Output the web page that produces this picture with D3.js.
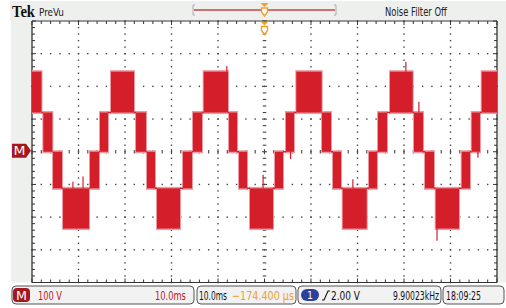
<!DOCTYPE html>
<html><head><meta charset="utf-8">
<script src="https://cdn.jsdelivr.net/npm/d3@7"></script>
<style>
html,body{margin:0;padding:0;background:#fff;}
svg{display:block;}
text{font-family:"DejaVu Sans Condensed","Roboto","Liberation Sans",sans-serif;}
</style></head>
<body>
<svg id="c" width="506" height="308"></svg>
<script>
// ---- data (time in ms, voltage in V) ----
const segStart = [0.0, 2.43, 4.52, 6.67, 12.47, 14.62, 16.99, 22.37, 24.73, 26.88, 32.47, 34.62,
  36.92, 42.37, 44.52, 46.88, 52.26, 54.62, 56.84, 62.37, 64.73, 66.82, 72.47, 74.41,
  76.99, 82.15, 84.52, 86.82, 92.41, 94.56, 96.71];
const segEnd = [2.04, 4.37, 6.45, 12.26, 14.41, 16.34, 21.94, 24.52, 26.45, 31.83, 34.41, 36.56,
  42.15, 44.09, 46.24, 51.83, 53.98, 56.34, 62.30, 64.30, 66.45, 71.98, 74.19, 76.34,
  81.87, 84.09, 86.45, 91.83, 94.19, 96.34, 100.0];
const segLow = [120, 0, -112, -235, -112, 0, 120, 0, -112, -235, -112, 0,
  120, 0, -112, -235, -112, 0, 120, 0, -112, -235, -112, 0,
  120, 0, -112, -235, -112, 0, 120];
const segHigh = [245, 120, 0, -112, 0, 120, 245, 120, 0, -112, 0, 120,
  245, 120, 0, -112, 0, 120, 245, 120, 0, -112, 0, 120,
  245, 120, 0, -112, 0, 120, 245];
const spikeT    = [10.97, 8.8, 49.7, 41.9, 80.4, 87.1, 95.9, 69.0, 83.2, 55.6];
const spikeFrom = [-112, -112, -112, 245, 245, -235, 0, -112, 120, 0];
const spikeTo   = [-76, -92, -70, 262, 275, -272, -18, -84, 153, -22];

const timeDomain = [0, 100];      // 10 ms/div, 10 divisions
const voltDomain = [-400, 400];   // 100 V/div, 8 divisions
const topLabels = ["Tek", "PreVu", "Noise Filter Off"];
const bottomLabels = ["100 V", "10.0ms", "10.0ms", "\u2212174.400 \u00b5s", "1", "2.00 V", "9.90023kHz", "18:09:25"];

// ---- layout ----
const svg = d3.select("#c");
const L = 32, R = 497, T = 21, B = 282.5;
const x = d3.scaleLinear().domain(timeDomain).range([L, R]);
const y = d3.scaleLinear().domain(voltDomain).range([B, T]);
const gray = "#eef0ee", red = "#d41f2b", dark = "#333";

// text squeezed horizontally to the width it has in the reference
function label(txt, px, py, opts) {
  const t = svg.append("text").attr("x", 0).attr("y", 0)
    .attr("font-size", opts.size || 12).attr("fill", opts.fill || "#111").text(txt);
  if (opts.family) t.style("font-family", opts.family);
  if (opts.weight) t.attr("font-weight", opts.weight);
  const w0 = t.node().getComputedTextLength() || 1;
  const sx = opts.len ? opts.len / w0 : 1;
  t.attr("transform", `translate(${px},${py}) scale(${sx},1)`);
  return t;
}

// background regions
svg.append("rect").attr("x", 10).attr("y", 1).attr("width", 496).attr("height", 19).attr("fill", gray);
svg.append("rect").attr("x", 11).attr("y", 20).attr("width", L - 11).attr("height", B - 20).attr("fill", gray);
svg.append("rect").attr("x", R).attr("y", 20).attr("width", 506 - R).attr("height", B - 20).attr("fill", gray);
svg.append("rect").attr("x", L).attr("y", T).attr("width", R - L).attr("height", B - T).attr("fill", "#fff");

// graticule
const g = svg.append("g");
const xMajor = d3.range(0, 101, 10), xMinor = d3.range(0, 100.01, 2);
const yMajor = d3.range(-400, 401, 100), yMinor = d3.range(-400, 400.01, 20);
xMajor.slice(1, -1).forEach(t => {
  if (t === 50) return;
  yMinor.forEach(v => g.append("rect").attr("x", x(t) - 0.7).attr("y", y(v) - 0.7).attr("width", 1.4).attr("height", 1.4).attr("fill", "#444"));
});
yMajor.slice(1, -1).forEach(v => {
  if (v === 0) return;
  xMinor.forEach(t => g.append("rect").attr("x", x(t) - 0.7).attr("y", y(v) - 0.7).attr("width", 1.4).attr("height", 1.4).attr("fill", "#444"));
});
yMinor.forEach(v => {
  const ww = (v % 100 === 0) ? 5 : 3.5;
  g.append("line").attr("x1", x(50) - ww / 2).attr("x2", x(50) + ww / 2).attr("y1", y(v)).attr("y2", y(v)).attr("stroke", "#444").attr("stroke-width", 1.1);
});
xMinor.forEach(t => {
  const h = (t % 10 === 0) ? 5 : 3.5;
  g.append("line").attr("x1", x(t)).attr("x2", x(t)).attr("y1", y(0) - h / 2).attr("y2", y(0) + h / 2).attr("stroke", "#444").attr("stroke-width", 1.1);
});
g.append("line").attr("x1", L).attr("x2", R).attr("y1", T).attr("y2", T).attr("stroke", dark);
g.append("line").attr("x1", L).attr("x2", R).attr("y1", B).attr("y2", B).attr("stroke", dark);
g.append("line").attr("x1", L).attr("x2", L).attr("y1", T).attr("y2", B).attr("stroke", dark).attr("stroke-width", 1.3);
g.append("line").attr("x1", R).attr("x2", R).attr("y1", T).attr("y2", B).attr("stroke", dark).attr("stroke-width", 1.3);
xMinor.forEach(t => {
  const h = (t % 10 === 0) ? 4 : 3;
  g.append("line").attr("x1", x(t)).attr("x2", x(t)).attr("y1", T).attr("y2", T + h).attr("stroke", dark);
  g.append("line").attr("x1", x(t)).attr("x2", x(t)).attr("y1", B).attr("y2", B - h).attr("stroke", dark);
});
yMinor.forEach(v => {
  const ww = (v % 100 === 0) ? 4 : 3;
  g.append("line").attr("x1", L).attr("x2", L + ww).attr("y1", y(v)).attr("y2", y(v)).attr("stroke", dark);
  g.append("line").attr("x1", R).attr("x2", R - ww).attr("y1", y(v)).attr("y2", y(v)).attr("stroke", dark);
});

// waveform
svg.append("clipPath").attr("id", "clip").append("rect").attr("x", L).attr("y", T).attr("width", R - L).attr("height", B - T);
const w = svg.append("g").attr("clip-path", "url(#clip)");
const segs = segStart.map((s, i) => ({s, e: segEnd[i], lo: segLow[i], hi: segHigh[i]}));
w.selectAll("rect.f").data(segs).join("rect").attr("class", "f")
  .attr("x", d => x(d.s) - 1).attr("width", d => x(d.e) - x(d.s) + 2)
  .attr("y", d => y(d.hi) - 1.5).attr("height", d => y(d.lo) - y(d.hi) + 3)
  .attr("fill", "#eb9ba1");
w.selectAll("rect.b").data(segs).join("rect").attr("class", "b")
  .attr("x", d => x(d.s)).attr("width", d => x(d.e) - x(d.s))
  .attr("y", d => y(d.hi)).attr("height", d => y(d.lo) - y(d.hi))
  .attr("fill", red);
for (let i = 0; i < segs.length - 1; i++) {
  const a = segs[i], b = segs[i + 1];
  const lvl = [a.lo, a.hi].find(v => v === b.lo || v === b.hi);
  if (lvl === undefined) continue;
  w.append("line").attr("x1", x(a.e)).attr("x2", x(b.s)).attr("y1", y(lvl)).attr("y2", y(lvl))
    .attr("stroke", red).attr("stroke-width", 1.5);
}
spikeT.forEach((t, i) => {
  w.append("line").attr("x1", x(t)).attr("x2", x(t)).attr("y1", y(spikeFrom[i])).attr("y2", y(spikeTo[i]))
    .attr("stroke", red).attr("stroke-width", 1.2);
});

// channel marker on left
const mY = y(0) - 1;
svg.append("path").attr("d", `M12,${mY - 7} H26 L31,${mY} L26,${mY + 7} H12 Z`).attr("fill", "#a5171d");
label("M", 13.5, mY + 4.5, {size: 12, fill: "#fff", len: 12});

// top bar
label(topLabels[0], 12, 17, {size: 17, fill: "#111", len: 23, weight: "bold", family: "'Liberation Serif','DejaVu Serif',serif"});
label(topLabels[1], 39, 16, {size: 11, fill: "#222", len: 25});
label(topLabels[2], 385, 16, {size: 12, fill: "#222", len: 62});
svg.append("path").attr("d", "M195,5 H193 V15 H195").attr("fill", "none").attr("stroke", "#aaa");
svg.append("path").attr("d", "M334,5 H336 V15 H334").attr("fill", "none").attr("stroke", "#aaa");
svg.append("line").attr("x1", 194).attr("x2", 335).attr("y1", 10).attr("y2", 10).attr("stroke", "#c0464a").attr("stroke-width", 1.6);
const orange = "#f0a02a";
function trig(cx, ty) {
  svg.append("path").attr("d", `M${cx - 4},${ty} H${cx + 4} L${cx},${ty + 4} Z`).attr("fill", orange);
  svg.append("path").attr("d", `M${cx - 3},${ty + 5} H${cx + 3} V${ty + 9} L${cx},${ty + 13} L${cx - 3},${ty + 9} Z`)
    .attr("fill", "#fff").attr("stroke", orange).attr("stroke-width", 1.4);
}
trig(x(50), 3);
trig(x(50), 21.5);

// bottom bar
function box(x0, x1) {
  svg.append("rect").attr("x", x0).attr("y", 286).attr("width", x1 - x0).attr("height", 18).attr("rx", 4)
    .attr("fill", "#f2f2f2").attr("stroke", "#555").attr("stroke-width", 1);
}
box(12, 194); box(197, 296); box(298, 441); box(443, 504);
const ty = 300, fs = 12.5;
svg.append("rect").attr("x", 13).attr("y", 288).attr("width", 17).attr("height", 14).attr("rx", 4).attr("fill", "#a5171d");
label("M", 16, 299.5, {size: 12, fill: "#fff", len: 11});
label(bottomLabels[0], 38, ty, {size: fs, fill: "#c3161f", len: 24});
label(bottomLabels[1], 155, ty, {size: fs, fill: "#c3161f", len: 31});
label(bottomLabels[2], 199, ty, {size: fs, fill: "#111", len: 28});
label(bottomLabels[3], 232, ty, {size: fs, fill: orange, len: 62});
svg.append("rect").attr("x", 301).attr("y", 289).attr("width", 18).attr("height", 12).attr("rx", 6).attr("fill", "#2d419c");
label(bottomLabels[4], 307, 299, {size: 11, fill: "#fff", len: 6});
svg.append("path").attr("d", "M322,300 H324 L328,291 H330").attr("fill", "none").attr("stroke", "#111").attr("stroke-width", 1.1);
label(bottomLabels[5], 331, ty, {size: fs, fill: "#111", len: 29});
label(bottomLabels[6], 393, ty, {size: fs, fill: "#111", len: 46});
label(bottomLabels[7], 446, ty, {size: fs, fill: "#111", len: 35});
</script>
</body></html>
